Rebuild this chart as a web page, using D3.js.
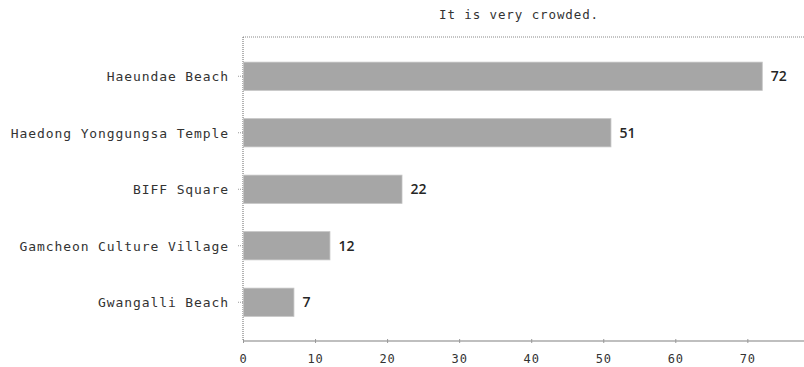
<!DOCTYPE html>
<html><head><meta charset="utf-8">
<script src="https://cdn.jsdelivr.net/npm/d3@7"></script>
<style>
body{margin:0;background:#fff;}
svg{display:block;}
.mono{font-family:"DejaVu Sans Mono",monospace;font-size:13px;letter-spacing:0.9px;fill:#333;}
</style></head>
<body><svg id="c" width="804" height="367"></svg>
<script>
const title = "It is very crowded.";
const categories = ["Haeundae Beach","Haedong Yonggungsa Temple","BIFF Square","Gamcheon Culture Village","Gwangalli Beach"];
const values = [72,51,22,12,7];
const xTicks = [0,10,20,30,40,50,60,70];

const svg = d3.select("#c");
const mLeft = 243, mRight = 805, mTop = 37, mBottom = 341;
const x = d3.scaleLinear().domain([0,78]).range([mLeft,mRight]);
const y = d3.scaleBand().domain(categories).range([48,330.5]).paddingInner(0.5).paddingOuter(0.25);

// top dotted border
svg.append("line").attr("x1",mLeft).attr("x2",804).attr("y1",mTop).attr("y2",mTop)
  .attr("stroke","#888").attr("stroke-dasharray","1,1");
// left dotted axis
svg.append("line").attr("x1",mLeft).attr("x2",mLeft).attr("y1",mTop).attr("y2",mBottom)
  .attr("stroke","#666").attr("stroke-dasharray","1,1");

// bars
svg.selectAll("rect.bar").data(values).enter().append("rect")
  .attr("x",x(0)+0.5).attr("y",(d,i)=>y(categories[i]))
  .attr("width",d=>x(d)-x(0)).attr("height",y.bandwidth())
  .attr("fill","#a6a6a6").attr("stroke","#c4c4c4").attr("stroke-width",0.8);

// value labels
svg.selectAll("text.val").data(values).enter().append("text")
  .attr("x",d=>x(d)+9).attr("y",(d,i)=>y(categories[i])+y.bandwidth()/2)
  .attr("dy","0.35em")
  .style("font-family","'Open Sans','Noto Sans',sans-serif").style("font-size","14px").style("font-weight","600")
  .attr("fill","#262626").text(d=>d);

// bottom axis
const xa = svg.append("g").attr("transform",`translate(0,${mBottom})`)
  .call(d3.axisBottom(x).tickValues(xTicks).tickSize(3).tickPadding(8));
xa.select(".domain").attr("d",`M${mLeft},0H804`).attr("stroke","#aaa").attr("stroke-width",1.5);
xa.selectAll(".tick line").attr("stroke","#999").attr("y1",-2).attr("y2",2);
xa.selectAll(".tick text").attr("class","mono").style("font-size","12px").attr("dy","0.9em");

// left axis labels
const ya = svg.append("g").attr("transform",`translate(${mLeft},0)`)
  .call(d3.axisLeft(y).tickSize(5).tickPadding(9));
ya.select(".domain").remove();
ya.selectAll(".tick line").attr("stroke","#999").attr("stroke-dasharray","1,1");
ya.selectAll(".tick text").attr("class","mono").attr("dy","0.4em");

// title
svg.append("text").attr("class","mono").attr("x",519).attr("y",19)
  .attr("text-anchor","middle").style("font-size","12.5px").text(title);
</script></body></html>
